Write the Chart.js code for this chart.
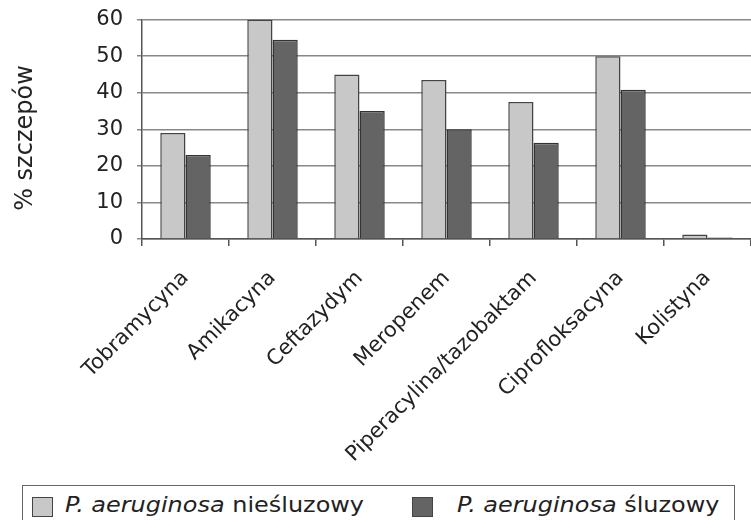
<!DOCTYPE html>
<html>
<head>
<meta charset="utf-8">
<script src="https://cdn.jsdelivr.net/npm/chart.js@4"></script>
<style>
  body { margin: 0; background: #fff; width: 751px; height: 520px; overflow: hidden; position: relative; }
  #wrap { position: absolute; left: 0; top: -7px; width: 751px; height: 477px; }
  #legend {
    position: absolute; left: 22px; top: 485px; width: 713px; height: 50px;
    border: 1.5px solid #666; box-sizing: border-box;
    font-family: "DejaVu Sans", sans-serif; font-size: 21px; color: #222;
  }
  .sw { position: absolute; top: 11px; width: 21px; height: 20px; border: 1px solid #444; box-sizing: border-box; }
  .txt { position: absolute; top: 7px; white-space: nowrap; transform: scaleX(1.14); transform-origin: left top; }
</style>
</head>
<body>
<div id="wrap"><canvas id="chart"></canvas></div>
<div id="legend">
  <span class="sw" style="left:9px; background:#c8c8c8"></span>
  <span class="txt" style="left:42px"><i>P. aeruginosa</i> nieśluzowy</span>
  <span class="sw" style="left:389px; background:#646464"></span>
  <span class="txt" style="left:434px"><i>P. aeruginosa</i> śluzowy</span>
</div>
<script>
const categories = ['Tobramycyna', 'Amikacyna', 'Ceftazydym', 'Meropenem', 'Piperacylina/tazobaktam', 'Ciprofloksacyna', 'Kolistyna'];
const nonMucoid = [29, 60, 45, 43.5, 37.5, 50, 1.2];
const mucoid = [23, 54.5, 35, 30, 26.3, 40.8, 0.4];
const yTicks = [0, 10, 20, 30, 40, 50, 60];
const yTitle = '% szczepów';

const font = '"DejaVu Sans", sans-serif';

// y title drawn by hand so it can sit a little below the middle, like the original
const yTitlePlugin = {
  id: 'yTitle',
  afterDraw(chart) {
    const ctx = chart.ctx;
    ctx.save();
    ctx.translate(26, 145);
    ctx.rotate(-Math.PI / 2);
    ctx.font = '24px ' + font;
    ctx.fillStyle = '#222';
    ctx.textAlign = 'center';
    ctx.textBaseline = 'middle';
    ctx.fillText(yTitle, 0, 0);
    ctx.restore();
  }
};

new Chart(document.getElementById('chart').getContext('2d'), {
  type: 'bar',
  data: {
    labels: categories,
    datasets: [
      { label: 'P. aeruginosa nieśluzowy', data: nonMucoid, backgroundColor: '#c8c8c8', borderColor: '#444', borderWidth: 1.5 },
      { label: 'P. aeruginosa śluzowy', data: mucoid, backgroundColor: '#646464', borderColor: '#333', borderWidth: 1.5 }
    ]
  },
  plugins: [yTitlePlugin],
  options: {
    responsive: true,
    maintainAspectRatio: false,
    animation: false,
    layout: { padding: { top: 8, right: 0 } },
    plugins: { legend: { display: false }, tooltip: { enabled: false } },
    datasets: { bar: { categoryPercentage: 0.58, barPercentage: 1.0 } },
    scales: {
      x: {
        grid: { offset: true, drawOnChartArea: false, color: '#555', lineWidth: 1.5, tickLength: 7 },
        border: { color: '#555', width: 1.5 },
        ticks: { minRotation: 45, maxRotation: 45, color: '#222', padding: 20, font: { family: font, size: 21 } },
        afterFit: s => { s.height = 231; }
      },
      y: {
        min: 0, max: 60,
        afterBuildTicks: s => { s.ticks = yTicks.map(v => ({ value: v })); },
        grid: { color: '#888', lineWidth: 1.5, tickLength: 5 },
        border: { color: '#555', width: 1.5 },
        ticks: { color: '#222', padding: 14, font: { family: font, size: 21 } },
        afterFit: s => { s.width = 142; }
      }
    }
  }
});
</script>
</body>
</html>
